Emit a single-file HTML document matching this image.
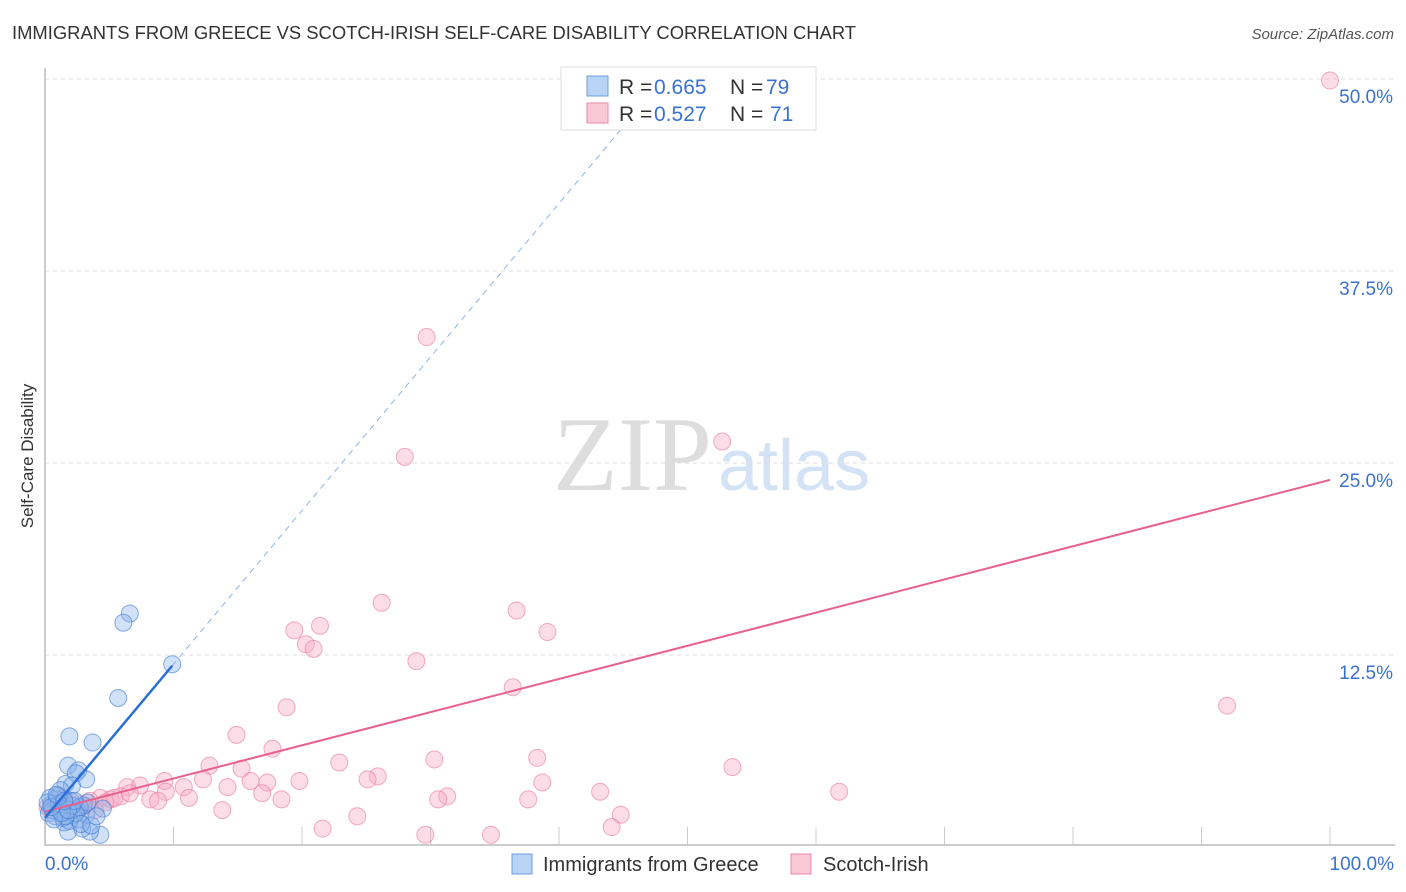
<!DOCTYPE html>
<html><head><meta charset="utf-8">
<style>
body{margin:0;background:#fff;font-family:"Liberation Sans",sans-serif;}
#wrap{position:relative;width:1406px;height:892px;overflow:hidden;}
</style></head>
<body>
<div id="wrap">
<svg id="chart" width="1406" height="892" xmlns="http://www.w3.org/2000/svg">
<text x="12" y="39" font-size="18.4" fill="#333">IMMIGRANTS FROM GREECE VS SCOTCH-IRISH SELF-CARE DISABILITY CORRELATION CHART</text>
<text x="1394" y="39" font-size="15" fill="#555" font-style="italic" text-anchor="end">Source: ZipAtlas.com</text>
<text x="33" y="456" font-size="17" fill="#333" text-anchor="middle" transform="rotate(-90 33 456)">Self-Care Disability</text>
<text x="553" y="490" font-size="106" fill="#ddd" font-family="Liberation Serif,serif">ZIP</text>
<text x="718" y="490" font-size="72" fill="#d3e2f5">atlas</text>
<g id="grid"></g><g id="marks"></g><g id="lines"></g>
<rect x="561" y="67" width="255" height="63" fill="#fff" stroke="#ddd"/>
<rect x="587" y="76" width="21" height="20" fill="#b7d3f5" stroke="#6f9fdc"/>
<rect x="587" y="103" width="21" height="20" fill="#f9c8d6" stroke="#e88aa6"/>
<g font-size="21">
<text x="619" y="94" fill="#333">R =</text><text x="654" y="94" fill="#3a72d0">0.665</text>
<text x="730" y="94" fill="#333">N =</text><text x="766" y="94" fill="#3a72d0">79</text></g>
<g font-size="21">
<text x="619" y="121" fill="#333">R =</text><text x="654" y="121" fill="#3a72d0">0.527</text>
<text x="730" y="121" fill="#333">N =</text><text x="770" y="121" fill="#3a72d0">71</text></g>
<rect x="512" y="854" width="20" height="20" fill="#b7d3f5" stroke="#6f9fdc"/>
<text x="543" y="871" font-size="20" fill="#333">Immigrants from Greece</text>
<rect x="791" y="854" width="20" height="20" fill="#f9c8d6" stroke="#e88aa6"/>
<text x="823" y="871" font-size="20" fill="#333">Scotch-Irish</text>
</svg>
</div>
<script>
const yTicks=[12.5,25,37.5,50];
const yTickLabels=["12.5%","25.0%","37.5%","50.0%"];
const xTicks=[10,20,30,40,50,60,70,80,90,100];
const blueX=[6.6,6.1,9.9,5.7,1.9,3.7,1.8,2.6,2.4,3.2,1.6,2.1,1.2,4.5,4.3,1.8,3.5,2.9,1.5,2.6,3.2,0.9,0.5,1.0,1.5,2.0,2.5,3.0,0.3,0.8,1.2,1.7,2.2,2.7,3.3,0.4,1.0,1.4,1.9,2.4,2.8,0.6,1.1,1.6,2.1,0.2,0.7,1.3,1.8,2.3,3.6,4.0,0.5,0.9,1.5];
const blueY=[15.2,14.6,11.9,9.7,7.2,6.8,5.3,5.0,4.8,4.4,4.1,4.0,3.7,2.5,0.8,1.0,1.0,1.2,1.6,1.8,2.1,3.1,2.8,2.6,2.9,3.0,2.4,2.7,2.2,2.0,2.3,2.5,2.1,2.6,2.9,3.2,3.3,1.9,1.7,2.2,1.5,2.4,2.8,2.0,2.7,2.9,1.8,2.2,2.4,3.0,1.4,2.0,2.6,3.4,3.0];
const pinkX=[100,29.7,52.7,28.0,26.2,36.7,19.4,21.4,39.1,20.3,20.9,28.9,36.4,92.0,18.8,14.9,17.7,12.8,22.9,30.3,38.3,53.5,15.3,25.9,25.1,19.8,9.3,12.3,16.0,17.3,38.7,6.4,7.4,10.8,14.2,43.2,61.8,9.4,16.9,31.3,30.6,37.6,8.2,8.8,11.2,18.4,13.8,44.8,24.3,44.1,21.6,29.6,34.7,4.3,5.1,3.5,5.9,2.7,1.9,1.2,0.8,0.4,1.5,2.3,3.1,3.9,4.7,5.4,6.6,0.2];
const pinkY=[49.9,33.2,26.4,25.4,15.9,15.4,14.1,14.4,14.0,13.2,12.9,12.1,10.4,9.2,9.1,7.3,6.4,5.3,5.5,5.7,5.8,5.2,5.1,4.6,4.4,4.3,4.3,4.4,4.3,4.2,4.2,3.9,4.0,3.9,3.9,3.6,3.6,3.6,3.5,3.3,3.1,3.1,3.1,3.0,3.2,3.1,2.4,2.1,2.0,1.3,1.2,0.8,0.8,3.2,3.1,3.0,3.3,2.8,2.6,2.4,2.9,2.5,3.2,2.2,2.7,2.4,2.9,3.2,3.5,2.6];
const blueFit=[1.9,1.0];
const pinkFit=[2.3,0.216];
const X0=45,X1=1330,Y0=847,PX_PER_Y=15.36;
const xs=v=>X0+v*(X1-X0)/100;
const ys=v=>Y0-v*PX_PER_Y;
const NS="http://www.w3.org/2000/svg";
function mk(tag,attrs,parent){const e=document.createElementNS(NS,tag);for(const k in attrs)e.setAttribute(k,attrs[k]);parent.appendChild(e);return e;}
const grid=document.getElementById('grid'),marks=document.getElementById('marks'),lines=document.getElementById('lines');
yTicks.forEach((t,i)=>{
 const g=mk('line',{x1:X0,x2:1395,y1:ys(t),y2:ys(t),stroke:'#ddd','stroke-dasharray':'4 4'},grid);
 
 
 const l=mk('text',{x:1393,y:ys(t)+24,'font-size':19,fill:'#3a72d0','text-anchor':'end'},grid);
 l.textContent=yTickLabels[i];
 
 
});
xTicks.forEach(t=>{
 const k=mk('line',{x1:xs(t),x2:xs(t),y1:827,y2:845,stroke:'#ccc'},grid);
 
 
});
const ax=mk('path',{d:`M${X0} 68V845H1395`,fill:'none',stroke:'#bbb','stroke-width':1.5},grid);


const xl0=mk('text',{x:45,y:870,'font-size':19,fill:'#3a72d0'},grid);xl0.textContent='0.0%';


const xl1=mk('text',{x:1394,y:870,'font-size':19,fill:'#3a72d0','text-anchor':'end'},grid);xl1.textContent='100.0%';


pinkX.forEach((x,i)=>{
 const c=mk('circle',{cx:xs(x),cy:ys(pinkY[i]),r:8.5,fill:'rgba(247,170,195,0.4)',stroke:'rgba(232,120,155,0.6)','stroke-width':1},marks);
 
 
});
blueX.forEach((x,i)=>{
 const c=mk('circle',{cx:xs(x),cy:ys(blueY[i]),r:8.5,fill:'rgba(140,180,235,0.4)',stroke:'rgba(60,120,210,0.6)','stroke-width':1},marks);
 
 
});
const pl=mk('line',{x1:xs(0),y1:ys(pinkFit[0]),x2:xs(100),y2:ys(pinkFit[0]+pinkFit[1]*100),stroke:'#e8608c','stroke-width':2},lines);


const bl=mk('line',{x1:xs(0),y1:ys(blueFit[0]),x2:xs(9.9),y2:ys(blueFit[0]+blueFit[1]*9.9),stroke:'#2a6fd6','stroke-width':2.5},lines);


const bd=mk('line',{x1:xs(9.9),y1:ys(blueFit[0]+blueFit[1]*9.9),x2:xs(46),y2:ys(blueFit[0]+blueFit[1]*46),stroke:'#8fb3e3','stroke-width':1,'stroke-dasharray':'6 5'},lines);


</script>
</body></html>
